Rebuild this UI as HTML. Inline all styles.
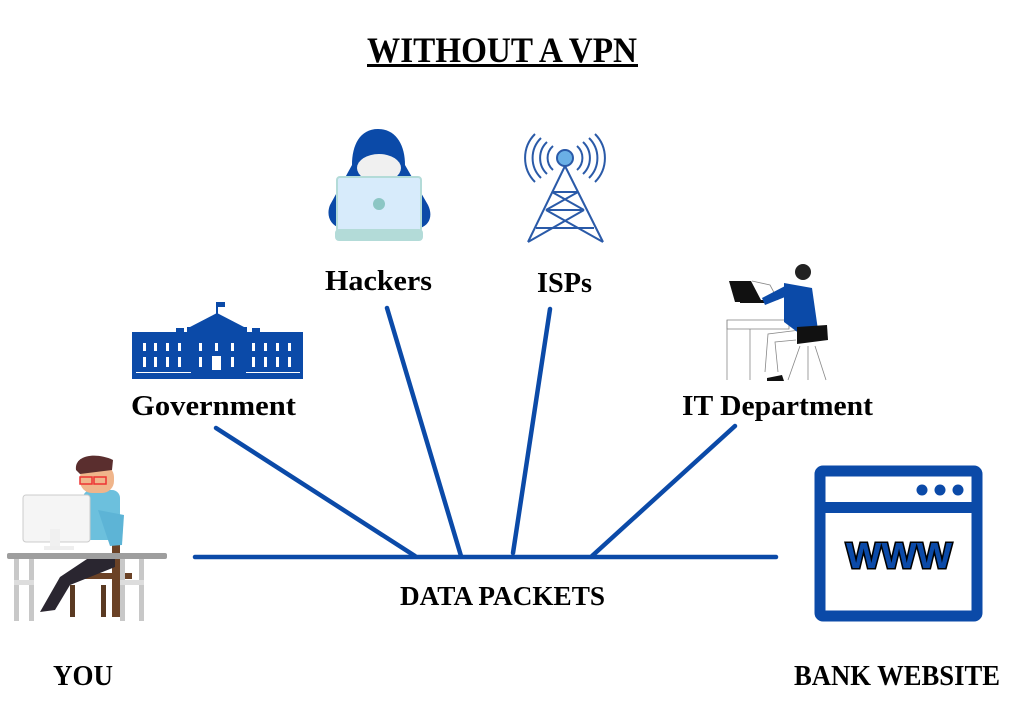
<!DOCTYPE html>
<html><head><meta charset="utf-8"><style>
html,body{margin:0;padding:0;background:#fff;}
svg{display:block;}
text{font-family:"Liberation Serif",serif;font-weight:bold;fill:#000;}
</style></head><body>
<svg width="1013" height="709" viewBox="0 0 1013 709" xmlns="http://www.w3.org/2000/svg">
<!-- title -->
<text x="367" y="62" font-size="36" textLength="270" lengthAdjust="spacingAndGlyphs">WITHOUT A VPN</text>
<rect x="367" y="64" width="271" height="3" fill="#000"/>

<!-- lines -->
<g stroke="#0b4aa8" stroke-width="4.5" stroke-linecap="round">
<line x1="195" y1="557" x2="776" y2="557"/>
<line x1="216" y1="428" x2="415" y2="556"/>
<line x1="387" y1="308" x2="461" y2="556"/>
<line x1="550" y1="309" x2="513" y2="553"/>
<line x1="735" y1="426" x2="592" y2="556"/>
</g>

<!-- labels -->
<text x="325" y="290" font-size="29" textLength="107" lengthAdjust="spacingAndGlyphs">Hackers</text>
<text x="537" y="292" font-size="29" textLength="55" lengthAdjust="spacingAndGlyphs">ISPs</text>
<text x="131" y="415" font-size="29" textLength="165" lengthAdjust="spacingAndGlyphs">Government</text>
<text x="682" y="415" font-size="29" textLength="191" lengthAdjust="spacingAndGlyphs">IT Department</text>
<text x="400" y="605" font-size="27" textLength="205" lengthAdjust="spacingAndGlyphs">DATA PACKETS</text>
<text x="53" y="685" font-size="28" textLength="60" lengthAdjust="spacingAndGlyphs">YOU</text>
<text x="794" y="685" font-size="28" textLength="206" lengthAdjust="spacingAndGlyphs">BANK WEBSITE</text>

<!-- hacker -->
<path d="M378 129 C360 129 352 145 352 165 L330 205 C326 215 330 225 340 228 L420 228 C430 225 433 215 428 205 L405 165 C405 145 396 129 378 129Z" fill="#0b4aa8"/>
<ellipse cx="379" cy="168" rx="22" ry="14" fill="#f0f0f0"/>
<rect x="337" y="177" width="84" height="55" rx="3" fill="#d7ebfb" stroke="#b3dbd8" stroke-width="2"/>
<rect x="335" y="229" width="88" height="12" rx="4" fill="#b3dbd8"/>
<circle cx="379" cy="204" r="6" fill="#8cc6c4"/>

<!-- tower -->
<g stroke="#2a5aa8" stroke-width="2" fill="none">
<line x1="565" y1="166" x2="528" y2="242"/><line x1="565" y1="166" x2="603" y2="242"/>
<line x1="552" y1="192" x2="578" y2="192"/><line x1="546" y1="210" x2="584" y2="210"/>
<line x1="536" y1="228" x2="594" y2="228"/>
<line x1="552" y1="192" x2="584" y2="210"/><line x1="578" y1="192" x2="546" y2="210"/>
<line x1="546" y1="210" x2="603" y2="242"/><line x1="584" y1="210" x2="528" y2="242"/>
<path d="M553 146 a16 16 0 0 0 0 24 M547 142 a22 22 0 0 0 0 32 M541 138 a28 28 0 0 0 0 40 M535 134 a34 34 0 0 0 0 48"/>
<path d="M577 146 a16 16 0 0 1 0 24 M583 142 a22 22 0 0 1 0 32 M589 138 a28 28 0 0 1 0 40 M595 134 a34 34 0 0 1 0 48"/>
</g>
<circle cx="565" cy="158" r="8" fill="#6ab0e6" stroke="#2a5aa8" stroke-width="2"/>

<!-- government -->
<g fill="#0b4aa8">
<rect x="132" y="332" width="171" height="47"/>
<polygon points="190,327 217,313 244,327"/>
<rect x="187" y="327" width="60" height="8"/>
<rect x="216" y="302" width="2" height="12"/><rect x="218" y="302" width="7" height="5"/>
<rect x="176" y="328" width="8" height="6"/><rect x="252" y="328" width="8" height="6"/>
</g>
<g fill="#fff">
<rect x="143" y="343" width="3" height="8"/><rect x="154" y="343" width="3" height="8"/><rect x="166" y="343" width="3" height="8"/><rect x="178" y="343" width="3" height="8"/>
<rect x="143" y="357" width="3" height="10"/><rect x="154" y="357" width="3" height="10"/><rect x="166" y="357" width="3" height="10"/><rect x="178" y="357" width="3" height="10"/>
<rect x="199" y="343" width="3" height="8"/><rect x="215" y="343" width="3" height="8"/><rect x="231" y="343" width="3" height="8"/>
<rect x="199" y="357" width="3" height="10"/><rect x="212" y="356" width="9" height="14"/><rect x="231" y="357" width="3" height="10"/>
<rect x="252" y="343" width="3" height="8"/><rect x="264" y="343" width="3" height="8"/><rect x="276" y="343" width="3" height="8"/><rect x="288" y="343" width="3" height="8"/>
<rect x="252" y="357" width="3" height="10"/><rect x="264" y="357" width="3" height="10"/><rect x="276" y="357" width="3" height="10"/><rect x="288" y="357" width="3" height="10"/>
<rect x="136" y="372" width="55" height="1"/><rect x="246" y="372" width="54" height="1"/>
</g>

<!-- IT person -->
<g stroke="#888" stroke-width="0.8" fill="none">
<rect x="727" y="320" width="62" height="9"/>
<line x1="727" y1="320" x2="727" y2="380"/><line x1="750" y1="329" x2="750" y2="380"/>
<line x1="800" y1="346" x2="788" y2="380"/><line x1="815" y1="346" x2="826" y2="380"/><line x1="808" y1="346" x2="808" y2="380"/>
<path d="M800 330 L768 334 L765 372 M796 340 L775 342 L778 372"/>
<path d="M752 281 L770 285 L778 300"/>
</g>
<polygon points="729,281 751,281 762,302 735,302" fill="#111"/>
<rect x="740" y="300" width="30" height="3" fill="#111"/>
<path d="M784 283 L812 288 L818 330 L800 334 L784 322 Z" fill="#0b4aa8"/>
<path d="M762 298 L787 285 L790 295 L765 305Z" fill="#0b4aa8"/>
<circle cx="803" cy="272" r="8" fill="#222"/>
<path d="M797 327 L827 325 L828 340 L797 344Z" fill="#111"/>
<path d="M767 378 L782 375 L784 381 L767 381Z" fill="#111"/>

<!-- YOU person -->
<rect x="70" y="585" width="5" height="32" fill="#5a3a22"/>
<rect x="101" y="585" width="5" height="32" fill="#5a3a22"/>
<rect x="112" y="520" width="8" height="97" fill="#6b4226"/>
<rect x="80" y="573" width="52" height="6" fill="#6b4226"/>
<rect x="83" y="490" width="37" height="50" rx="8" fill="#6cc0dd"/>
<path d="M98 510 L124 515 L122 545 L110 546Z" fill="#5db4d6"/>
<rect x="80" y="465" width="34" height="28" rx="12" fill="#f0b58b"/>
<path d="M76 470 C74 455 96 452 113 460 L112 470 L80 474Z" fill="#5a2e2e"/>
<rect x="80" y="477" width="12" height="7" fill="none" stroke="#e33" stroke-width="1.5"/>
<rect x="94" y="477" width="12" height="7" fill="none" stroke="#e33" stroke-width="1.5"/>
<path d="M90 557 L115 557 L115 567 L70 585 L55 610 L40 612 L60 577Z" fill="#2a2630"/>
<rect x="23" y="495" width="67" height="47" rx="3" fill="#f5f5f5" stroke="#ccc"/>
<rect x="50" y="529" width="10" height="18" fill="#f0f0f0"/>
<rect x="44" y="546" width="30" height="4" fill="#eee"/>
<rect x="7" y="553" width="160" height="6" rx="2" fill="#9e9e9e"/>
<rect x="14" y="559" width="5" height="62" fill="#c8c8c8"/><rect x="29" y="559" width="5" height="62" fill="#c8c8c8"/>
<rect x="120" y="559" width="5" height="62" fill="#c8c8c8"/><rect x="139" y="559" width="5" height="62" fill="#c8c8c8"/>
<rect x="14" y="580" width="20" height="5" fill="#ddd"/><rect x="120" y="580" width="24" height="5" fill="#ddd"/>

<!-- browser -->
<rect x="820" y="471" width="157" height="145" rx="3" fill="none" stroke="#0b4aa8" stroke-width="11"/>
<rect x="820" y="502" width="157" height="11" fill="#0b4aa8"/>
<circle cx="922" cy="490" r="5.5" fill="#0b4aa8"/><circle cx="940" cy="490" r="5.5" fill="#0b4aa8"/><circle cx="958" cy="490" r="5.5" fill="#0b4aa8"/>
<text x="846" y="568" font-size="36" textLength="106" lengthAdjust="spacingAndGlyphs" style="font-family:'Liberation Sans',sans-serif;font-weight:bold;fill:#0b4aa8;stroke:#000;stroke-width:3;paint-order:stroke">WWW</text>
</svg>
</body></html>
